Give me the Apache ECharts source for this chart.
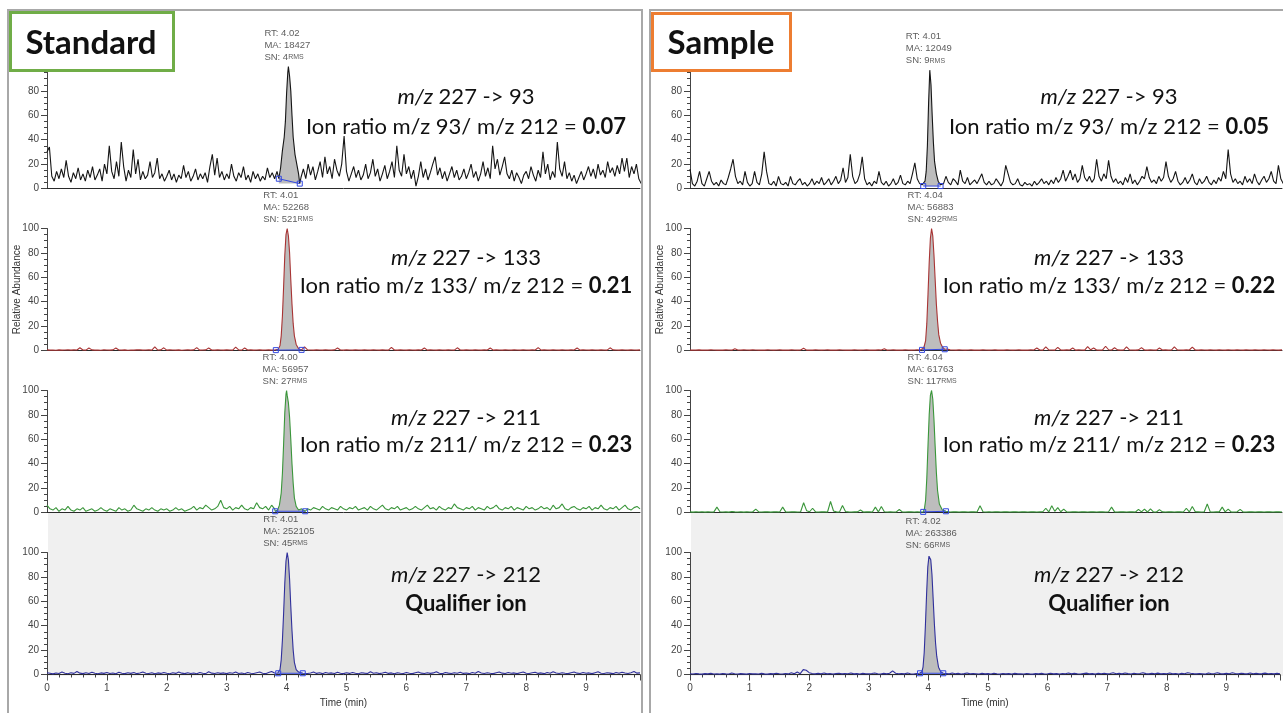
<!DOCTYPE html>
<html><head><meta charset="utf-8">
<script src="https://cdn.jsdelivr.net/npm/echarts@6/dist/echarts.min.js"></script>
<style>html,body{margin:0;padding:0;background:#fff;overflow:hidden}#c{width:1283px;height:713px}</style>
</head><body><div id="c"></div><script>
// ---------- sampling steps (min) ----------
const DT_FAST = 0.04;   // m/z 93 traces
const DT = 0.05;        // other traces

// ---------- tick labels ----------
const xTickLabels = ['0','1','2','3','4','5','6','7','8','9'];
const yTickLabels = ['0','20','40','60','80','100'];

// ---------- text ----------
const panelTitles = ['Standard', 'Sample'];
const transitions = ['227 -> 93', '227 -> 133', '227 -> 211', '227 -> 212'];
const productIons = ['93', '133', '211'];
const stdRatios = ['0.07', '0.21', '0.23'];
const samRatios = ['0.05', '0.22', '0.23'];
const qualifierText = 'Qualifier ion';
// [RT, MA, SN]
const stdInfo = [['4.02','18427','4'],['4.01','52268','521'],['4.00','56957','27'],['4.01','252105','45']];
const samInfo = [['4.01','12049','9'],['4.04','56883','492'],['4.04','61763','117'],['4.02','263386','66']];

// ---------- Standard traces ----------
const std93 = [
 30,34,10,6,14,8,16,9,23,10,5,13,8,17,7,12,6,15,9,18,7,11,16,6,20,
 12,35,14,8,22,10,38,18,6,15,9,32,12,24,7,14,8,11,22,9,13,25,8,12,6,
 10,15,7,12,5,11,8,19,9,14,6,10,16,7,12,8,13,5,18,28,11,25,9,14,7,
 12,8,20,10,6,13,9,18,7,11,5,14,8,12,6,10,7,17,9,13,8,14,null,null,null,
 null,null,null,null,null,null,9,16,8,20,11,18,7,14,22,9,26,12,18,8,24,15,10,20,43,
 14,6,12,18,9,15,7,11,20,8,13,24,10,16,6,12,19,8,14,22,9,35,15,10,28,
 12,18,8,15,2,10,22,9,16,7,13,20,26,11,17,8,14,6,12,18,9,15,7,10,16,
 8,13,20,9,14,6,12,22,10,17,8,35,16,24,11,18,26,12,8,15,6,13,9,4,11,
 14,8,18,11,6,15,9,30,12,20,7,14,9,38,16,10,22,8,13,6,11,4,9,14,7,
 12,18,10,16,8,20,11,15,9,22,13,17,10,19,12,25,14,25,9,18,12,20,8,4];
const std93Peak = [[3.87,8],[3.90,17],[3.93,31],[3.96,42],[3.98,55],[4.00,78],[4.02,95],[4.03,100],[4.05,92],[4.07,80],[4.09,60],[4.11,42],[4.14,28],[4.17,20],[4.20,12],[4.22,4]];
const std93Base = [[3.87,8],[4.22,4]];

const std133 = [
 0.5,0.3,0.4,0.2,0.5,0.3,0.4,0.6,0.3,0.5,0.4,2.2,0.4,0.3,2,0.5,0.3,0.4,0.2,0.5,
 0.4,0.3,0.5,2,0.4,0.3,0.5,0.2,0.4,0.3,0.5,0.6,0.3,0.4,0.5,0.3,3,0.4,0.5,2.2,
 0.3,0.5,0.4,0.3,0.5,0.2,0.4,0.6,0.3,0.5,2.4,0.3,0.4,0.5,2,0.4,0.3,0.5,0.4,0.3,
 0.5,0.4,0.3,2.8,0.5,0.3,2,0.4,0.5,0.3,0.4,0.5,0.3,0.4,0.5,0.3,0.4,null,null,null,
 null,null,null,null,null,null,3,0.5,0.4,0.3,0.5,0.4,0.3,0.6,0.4,0.3,0.5,2,0.4,0.3,
 0.5,0.4,0.3,0.5,0.4,0.3,0.5,0.4,0.3,0.5,0.4,0.3,0.5,0.4,0.3,2.5,0.4,0.3,0.5,0.4,
 0.3,0.5,0.4,0.3,0.5,0.4,2,0.3,0.5,0.4,0.3,0.5,0.4,0.3,0.5,0.4,0.3,2.2,0.4,0.3,
 0.5,0.4,0.3,0.5,0.4,0.3,0.5,0.4,2,0.3,0.5,0.4,0.3,0.5,0.4,0.3,0.5,0.4,0.3,0.5,
 0.4,0.3,0.5,0.4,2.4,0.3,0.5,0.4,0.3,0.5,0.4,0.3,0.5,0.4,0.3,0.5,0.4,2,0.3,0.5,
 0.4,0.3,0.5,0.4,0.3,0.5,0.4,0.3,2.2,0.5,0.4,0.3,0.5,0.4,0.3,0.5,0.4,0.3,0.5];
const std133Peak = [[3.82,0.3],[3.86,1],[3.89,4],[3.91,12],[3.93,28],[3.95,52],[3.97,78],[3.99,95],[4.01,100],[4.03,94],[4.05,80],[4.07,58],[4.09,38],[4.11,22],[4.13,12],[4.16,5],[4.20,1.5],[4.25,0.5]];
const std133Base = [[3.82,0.3],[4.25,0.5]];

const std211 = [
 6,3,2,4,1,3,2,5,2,1,3,2,4,1,2,3,1,2,4,2,
 1,3,2,1,4,2,3,1,2,6,3,2,1,3,2,4,2,1,3,2,
 3,1,2,4,2,3,1,2,3,5,2,4,3,6,4,2,3,5,10,4,
 3,5,2,4,3,6,3,2,4,3,8,4,3,5,2,6,3,null,null,null,
 null,null,null,null,null,null,null,3,2,4,3,2,5,3,2,4,3,2,5,3,
 2,4,3,5,2,3,4,2,5,3,2,4,6,3,2,4,3,5,2,3,
 4,2,3,5,3,2,4,6,3,4,2,5,3,2,4,3,7,4,3,2,
 4,3,5,2,4,3,2,5,3,4,6,3,2,4,3,5,2,4,3,2,
 5,3,4,2,3,5,3,4,2,6,3,4,7,3,2,4,5,3,2,4,
 3,5,2,4,3,6,3,2,4,3,5,2,4,6,3,2,4,5,3];
const std211Peak = [[3.81,1],[3.85,2],[3.88,6],[3.91,16],[3.93,32],[3.95,56],[3.97,82],[3.99,97],[4.00,100],[4.01,96],[4.03,90],[4.05,78],[4.07,60],[4.09,40],[4.11,24],[4.13,12],[4.16,5],[4.20,2],[4.25,3],[4.31,1]];
const std211Base = [[3.81,1],[4.31,1]];

const std212 = [
 1.5,1,0.5,1.2,0.8,2,1,0.6,1.4,0.9,2.5,1.1,0.7,1.5,0.8,1.9,1,0.6,1.3,0.9,
 1.6,0.8,1.2,0.6,1.8,1,0.7,1.4,0.9,1.6,0.7,1.2,2,1,0.8,1.5,0.6,1.3,0.9,1.7,
 1,0.6,1.4,0.9,2,1.1,0.7,1.5,0.8,1.2,0.6,1.6,1,0.7,2.2,1.1,0.8,1.4,0.9,1.3,
 0.7,1.5,1,2,0.8,1.3,0.6,1.6,1,0.8,1.4,2,1,0.7,1.6,2.5,1.2,1,null,null,
 null,null,null,null,null,null,1.5,0.8,1.2,2,0.9,1.4,0.7,1.6,1,1.3,0.8,1.8,1,0.7,
 1.4,0.9,1.7,1,0.6,1.5,1.1,0.8,2.2,1,1.4,0.7,1.2,1.8,0.9,1.3,0.6,1.5,1,0.8,
 1.6,1,0.7,1.4,2,1.1,0.8,1.5,0.9,1.3,2.3,1,0.7,1.6,1.1,0.8,1.4,1,1.9,0.9,
 1.2,0.7,1.6,1,2.4,1.3,0.8,1.5,1,0.7,1.4,2,1.1,0.8,1.6,1,1.3,0.7,1.5,2.1,
 1,0.8,1.4,1.9,0.9,1.3,0.7,1.6,1,2.3,1.2,0.8,1.5,1,0.7,1.4,2,1.1,0.8,1.6,
 1,1.3,0.7,1.5,2.2,1,0.8,1.4,1.1,0.7,1.6,1,1.9,1.2,0.8,1.5,2.4,1.1,1.3];
const std212Peak = [[3.86,1],[3.89,4],[3.91,12],[3.93,28],[3.95,50],[3.97,75],[3.99,93],[4.01,100],[4.03,94],[4.05,78],[4.07,56],[4.09,36],[4.11,20],[4.13,10],[4.16,4],[4.20,2],[4.27,1]];
const std212Base = [[3.86,1],[4.27,1]];

// ---------- Sample traces ----------
const sam93 = [
 16,4,2,6,14,4,2,8,14,6,3,5,2,7,4,3,9,16,24,10,4,6,3,14,5,
 2,4,14,5,3,12,30,14,4,3,6,2,10,4,3,5,2,10,4,3,6,8,3,5,2,
 4,8,3,6,4,9,3,5,8,3,6,10,4,7,17,5,9,28,10,4,6,12,26,8,3,
 5,2,6,4,14,5,3,6,2,4,8,3,5,11,4,3,6,4,12,21,8,4,3,null,null,
 null,null,null,null,null,3,4,10,5,3,8,6,3,15,6,4,9,3,5,7,4,8,12,5,3,
 6,3,4,8,5,2,6,19,12,5,3,4,8,3,2,5,3,4,2,6,3,5,8,4,6,
 3,7,4,9,5,8,15,6,10,15,7,12,5,8,19,9,6,10,5,8,24,10,6,12,8,
 23,10,5,8,4,6,3,9,5,12,4,7,3,6,10,8,18,9,5,7,4,10,6,9,22,
 10,5,8,14,6,3,5,9,4,7,12,5,3,8,4,6,10,5,3,7,4,9,6,14,8,
 32,12,5,8,4,6,3,10,5,8,4,12,6,3,7,10,5,8,14,6,4,19,8,4];
const sam93Peak = [[3.90,3],[3.93,6],[3.95,14],[3.97,35],[3.99,70],[4.01,97],[4.03,85],[4.05,60],[4.07,38],[4.09,22],[4.12,12],[4.15,6],[4.19,3]];
const sam93Base = [[3.90,2],[4.19,2]];

const sam133 = [
 0.3,0.4,0.3,0.5,0.3,0.4,0.3,0.5,0.4,0.3,0.4,0.3,0.5,0.4,0.3,1.5,0.4,0.3,0.5,0.4,
 0.3,0.5,0.4,0.3,0.4,0.3,0.5,0.4,0.3,0.4,0.5,0.3,0.4,0.3,0.5,0.4,0.3,0.4,1.8,0.3,
 0.4,0.3,0.5,0.4,0.3,0.4,0.5,0.3,0.4,0.3,0.5,0.4,0.3,0.4,0.3,0.5,0.4,0.3,0.4,0.5,
 0.3,0.4,0.3,0.5,0.4,1.5,0.3,0.4,0.5,0.3,0.4,0.3,0.5,0.4,0.3,0.4,0.5,0.4,null,null,
 null,null,null,null,null,null,1.2,0.5,0.4,0.3,0.5,0.4,0.3,0.4,0.5,0.3,0.4,0.3,0.5,0.4,
 0.3,0.4,0.5,0.3,0.4,0.3,0.5,0.4,0.3,0.4,0.5,0.3,0.4,0.3,0.5,0.4,2,0.4,0.3,3,
 0.5,0.4,0.3,2.5,0.4,0.3,0.5,0.4,2,0.3,0.5,0.4,0.3,3.2,0.6,2,0.4,0.3,0.5,3.5,
 0.6,0.4,2.2,0.5,0.3,0.4,3,0.5,0.4,0.3,0.5,2.4,0.4,0.3,0.5,0.4,0.3,2,0.4,0.5,
 0.3,0.4,3,0.5,0.4,0.3,0.5,0.4,2.8,0.4,0.3,0.5,0.4,0.3,0.5,0.4,0.3,0.5,0.4,0.3,
 0.5,0.4,0.3,0.5,0.4,0.3,0.5,0.4,0.3,0.5,0.4,0.3,0.5,0.4,0.3,0.5,0.4,0.3,0.5];
const sam133Peak = [[3.88,0.5],[3.91,2],[3.94,8],[3.96,22],[3.98,46],[4.00,72],[4.02,92],[4.04,100],[4.06,94],[4.08,78],[4.10,58],[4.12,38],[4.14,24],[4.16,13],[4.19,6],[4.22,3],[4.26,1]];
const sam133Base = [[3.88,0.5],[4.26,1]];

const sam211 = [
 0.5,0.3,0.5,0.4,0.6,0.3,0.5,0.4,0.5,4.4,0.6,0.4,0.5,0.3,0.8,0.5,0.4,0.6,0.3,0.5,
 0.4,0.6,2.7,0.5,0.4,0.6,0.5,0.3,0.5,0.6,0.4,4.4,0.5,0.4,0.6,0.5,0.4,0.6,8,1.5,
 0.6,3.5,0.5,0.4,0.6,0.5,0.4,9,1.2,0.5,0.4,5.7,0.8,0.5,0.4,0.6,0.5,2,0.4,0.5,
 0.6,0.4,4.4,0.5,5,0.6,0.4,0.5,0.4,0.5,2.5,0.5,0.4,0.6,0.5,0.4,0.5,0.4,null,null,
 null,null,null,null,null,null,0.5,0.4,0.6,0.5,0.4,0.6,0.5,0.4,0.6,0.5,0.4,5.5,0.6,0.4,
 0.5,0.4,0.6,0.5,0.4,0.6,0.5,0.4,0.5,0.6,0.4,0.5,0.6,0.4,0.5,0.6,0.4,0.5,0.6,3.5,
 0.5,5.5,1,4,0.6,2.7,0.5,0.4,0.6,0.5,0.4,0.6,0.5,0.4,0.6,0.5,0.4,0.6,0.5,0.4,
 0.6,4.4,0.5,0.4,0.6,0.5,0.4,0.6,0.5,0.4,2.6,0.5,2.8,0.4,3,0.5,0.4,2.4,0.5,0.4,
 0.6,0.5,0.4,0.6,0.5,0.4,3.5,0.5,5,0.6,0.5,0.4,0.6,7,0.5,0.4,0.6,0.5,4.4,0.5,
 2.7,0.5,0.4,0.6,2.6,0.5,0.4,0.6,0.5,0.4,0.6,0.5,0.4,0.6,0.5,0.4,0.6,0.5,0.4];
const sam211Peak = [[3.90,0.5],[3.92,3],[3.94,10],[3.96,28],[3.98,55],[4.00,80],[4.02,96],[4.04,100],[4.06,93],[4.08,76],[4.10,54],[4.12,33],[4.14,18],[4.17,7],[4.22,2],[4.28,1]];
const sam211Base = [[3.90,0.5],[4.28,1]];

const sam212 = [
 0.6,0.4,0.8,0.5,0.3,0.7,0.5,0.9,0.4,0.6,0.3,0.8,0.5,0.4,1.2,0.6,0.4,0.7,0.5,0.3,
 0.8,0.5,0.6,0.4,0.9,0.5,0.3,0.7,0.5,1,0.6,0.4,0.8,0.5,1.5,0.6,2,0.7,4,3.5,
 1.5,0.8,0.5,0.9,0.6,1.2,0.5,0.8,0.4,0.7,1,0.5,0.8,0.6,1.3,0.5,0.7,0.4,0.9,0.6,
 0.5,0.8,1.2,0.6,0.4,0.9,0.5,1,3,1,0.6,0.8,0.5,1.2,0.6,0.4,0.8,1,null,null,
 null,null,null,null,null,null,0.8,0.5,1.2,0.6,0.9,0.4,0.7,1.3,0.5,0.8,0.6,0.4,0.9,0.5,
 0.7,0.4,1,0.6,0.3,0.8,0.5,0.7,0.4,0.9,0.5,0.6,0.4,0.8,0.5,0.3,0.7,0.5,0.9,0.4,
 0.6,1,0.5,0.7,0.4,0.8,0.6,1.2,0.5,0.9,0.6,0.4,0.8,1.1,0.5,0.7,0.4,0.9,0.6,1,
 0.5,0.8,1.4,0.6,0.9,0.5,1.2,0.7,0.4,1,0.6,0.8,1.5,0.7,0.5,0.9,0.6,1.1,0.5,0.8,
 0.6,1.3,0.5,0.8,0.4,0.9,0.6,1.4,1,0.7,0.5,0.8,0.6,0.4,1.2,0.6,0.8,1.5,0.7,0.5,
 0.9,0.6,1.4,0.8,0.5,1,0.7,0.5,1.2,0.6,0.9,0.5,0.7,1.1,0.6,0.8,0.5,0.9,0.6];
const sam212Peak = [[3.86,1],[3.89,2],[3.91,6],[3.93,18],[3.95,40],[3.97,66],[3.99,88],[4.01,97],[4.02,98],[4.04,94],[4.06,82],[4.08,62],[4.10,42],[4.12,26],[4.14,15],[4.17,6],[4.21,2],[4.25,1]];
const sam212Base = [[3.86,1],[4.25,1]];

// ================= build =================
const SMALL = 'Liberation Sans';
const BIG = 'Lato';
const traceColors = ['#151515', '#a83434', '#3a963a', '#30309c'];
const markerBlue = '#3348e0';
const fillGray = '#bdbdbd';

const panels = [
  {noise: std93, step: DT_FAST, peak: std93Peak, base: std93Base, info: stdInfo[0]},
  {noise: std133, step: DT, peak: std133Peak, base: std133Base, info: stdInfo[1]},
  {noise: std211, step: DT, peak: std211Peak, base: std211Base, info: stdInfo[2]},
  {noise: std212, step: DT, peak: std212Peak, base: std212Base, info: stdInfo[3]},
  {noise: sam93, step: DT_FAST, peak: sam93Peak, base: sam93Base, info: samInfo[0]},
  {noise: sam133, step: DT, peak: sam133Peak, base: sam133Base, info: samInfo[1]},
  {noise: sam211, step: DT, peak: sam211Peak, base: sam211Base, info: samInfo[2]},
  {noise: sam212, step: DT, peak: sam212Peak, base: sam212Base, info: samInfo[3]}
];

function mergeTrace(noise, step, peak) {
  const t0 = peak[0][0], t1 = peak[peak.length - 1][0];
  const pts = [];
  noise.forEach((v, i) => {
    const t = Math.round(i * step * 1000) / 1000;
    if (v !== null && (t < t0 || t > t1)) pts.push([t, v]);
  });
  return pts.concat(peak).sort((a, b) => a[0] - b[0]);
}

const ROW_TOP = 66.5, ROW_STEP = 162, ROW_H = 122;
const grids = [], xAxes = [], yAxes = [], series = [];

panels.forEach((p, i) => {
  const side = i < 4 ? 0 : 1, row = i % 4;
  const isBottom = row === 3;
  grids.push({left: side ? 690 : 47, width: side ? 592 : 593, top: ROW_TOP + row * ROW_STEP, height: ROW_H});
  xAxes.push({
    type: 'value', gridIndex: i, min: 0, max: 9.9, interval: 1,
    axisLine: {show: true, onZero: false, lineStyle: {color: '#2a2a2a', width: 1}},
    axisTick: {show: isBottom, length: 6, lineStyle: {color: '#444'}},
    minorTick: {show: isBottom, splitNumber: 5, length: 3, lineStyle: {color: '#444'}},
    axisLabel: {show: isBottom, fontFamily: SMALL, fontSize: 10, color: '#444', margin: 9,
      formatter: v => (Number.isInteger(v) && v < xTickLabels.length) ? xTickLabels[v] : ''},
    splitLine: {show: false},
    name: isBottom ? 'Time (min)' : '', nameLocation: 'middle', nameGap: 24,
    nameTextStyle: {fontFamily: SMALL, fontSize: 10, color: '#333'}
  });
  yAxes.push({
    type: 'value', gridIndex: i, min: 0, max: 100, interval: 20,
    axisLine: {show: true, lineStyle: {color: '#444', width: 1}},
    axisTick: {show: true, length: 6, lineStyle: {color: '#444'}},
    minorTick: {show: true, splitNumber: 4, length: 3, lineStyle: {color: '#444'}},
    axisLabel: {fontFamily: SMALL, fontSize: 10, color: '#444', margin: 8,
      formatter: v => yTickLabels[Math.round(v / 20)] || ''},
    splitLine: {show: false}, minorSplitLine: {show: false},
    name: row === 1 ? 'Relative Abundance' : '', nameLocation: 'middle', nameGap: 25,
    nameMoveOverlap: false,
    nameTextStyle: {fontFamily: SMALL, fontSize: 10, color: '#333'}
  });
  const b0 = p.base[0], b1 = p.base[1];
  const fillData = p.peak.filter(d => d[0] >= b0[0] && d[0] <= b1[0]);
  series.push({
    type: 'line', xAxisIndex: i, yAxisIndex: i, data: fillData, symbol: 'none', silent: true,
    lineStyle: {width: 0, opacity: 0},
    areaStyle: {color: fillGray, opacity: 1, origin: Math.min(b0[1], b1[1])}, z: 1, animation: false
  });
  series.push({
    type: 'line', xAxisIndex: i, yAxisIndex: i, data: mergeTrace(p.noise, p.step, p.peak),
    symbol: 'none', silent: true, clip: false,
    lineStyle: {color: traceColors[row], width: 1.1}, z: 2, animation: false
  });
  series.push({
    type: 'line', xAxisIndex: i, yAxisIndex: i, data: p.base, symbol: 'rect', symbolSize: 5,
    showSymbol: true, silent: true,
    itemStyle: {color: 'rgba(255,255,255,0)', borderColor: markerBlue, borderWidth: 1},
    lineStyle: {color: markerBlue, width: 1}, z: 3, animation: false
  });
  const apex = p.peak.reduce((a, b) => (b[1] > a[1] ? b : a));
  series.push({
    type: 'scatter', xAxisIndex: i, yAxisIndex: i, data: [apex], symbolSize: 1,
    itemStyle: {color: 'rgba(0,0,0,0)'}, silent: true, z: 4, animation: false,
    label: {
      show: true, position: 'top', distance: 3, align: 'left', offset: [-24, 0],
      formatter: `{a|RT: ${p.info[0]}}\n{a|MA: ${p.info[1]}}\n{a|SN: ${p.info[2]}}{s|RMS}`,
      rich: {
        a: {fontFamily: SMALL, fontSize: 9.5, color: '#333', lineHeight: 12},
        s: {fontFamily: SMALL, fontSize: 7, color: '#333', lineHeight: 12}
      }
    }
  });
});

// ---------- decorations ----------
const graphics = [];
graphics.push({type: 'rect', z: -10, silent: true, shape: {x: 48, y: 513, width: 592, height: 163}, style: {fill: '#f0f0f0'}});
graphics.push({type: 'rect', z: -10, silent: true, shape: {x: 691, y: 513, width: 592, height: 163}, style: {fill: '#f0f0f0'}});
graphics.push({type: 'rect', z: 50, silent: true, shape: {x: 8, y: 10, width: 634, height: 720}, style: {fill: 'none', stroke: '#a8a8a8', lineWidth: 2}});
graphics.push({type: 'rect', z: 50, silent: true, shape: {x: 650, y: 10, width: 660, height: 720}, style: {fill: 'none', stroke: '#a8a8a8', lineWidth: 2}});
graphics.push({type: 'rect', z: 100, silent: true, shape: {x: 10.5, y: 12.5, width: 163, height: 58}, style: {fill: '#fff', stroke: '#70ad47', lineWidth: 3}});
graphics.push({type: 'text', z: 101, silent: true, x: 91, y: 43, style: {text: panelTitles[0], font: 'bold 33px ' + BIG, fill: '#111', align: 'center', verticalAlign: 'middle'}});
graphics.push({type: 'rect', z: 100, silent: true, shape: {x: 652.5, y: 13.5, width: 138, height: 57}, style: {fill: '#fff', stroke: '#ed7d31', lineWidth: 3}});
graphics.push({type: 'text', z: 101, silent: true, x: 721, y: 43, style: {text: panelTitles[1], font: 'bold 33px ' + BIG, fill: '#111', align: 'center', verticalAlign: 'middle'}});

const line1Y = [97, 258, 418, 575], line2Y = [127, 286, 445, 604];
const annX = [466, 1109];
const FS = 22;
const richBig = {
  i: {fontFamily: BIG, fontSize: FS, fontStyle: 'italic', fill: '#111'},
  b: {fontFamily: BIG, fontSize: FS, fontWeight: 'bold', fill: '#111'}
};
[stdRatios, samRatios].forEach((ratios, side) => {
  for (let row = 0; row < 4; row++) {
    graphics.push({type: 'text', z: 20, silent: true, x: annX[side], y: line1Y[row],
      style: {text: '{i|m/z} ' + transitions[row], fontFamily: BIG, fontSize: FS, fill: '#111', align: 'center', verticalAlign: 'middle', rich: richBig}});
    const t2 = row < 3 ? `Ion ratio m/z ${productIons[row]}/ m/z 212 = {b|${ratios[row]}}` : `{b|${qualifierText}}`;
    graphics.push({type: 'text', z: 20, silent: true, x: annX[side], y: line2Y[row],
      style: {text: t2, fontFamily: BIG, fontSize: FS, fill: '#111', align: 'center', verticalAlign: 'middle', rich: richBig}});
  }
});

const chart = echarts.init(document.getElementById('c'), null, {renderer: 'canvas'});
chart.setOption({
  animation: false,
  backgroundColor: '#fff',
  grid: grids, xAxis: xAxes, yAxis: yAxes, series: series,
  graphic: {elements: graphics}
});
</script></body></html>
